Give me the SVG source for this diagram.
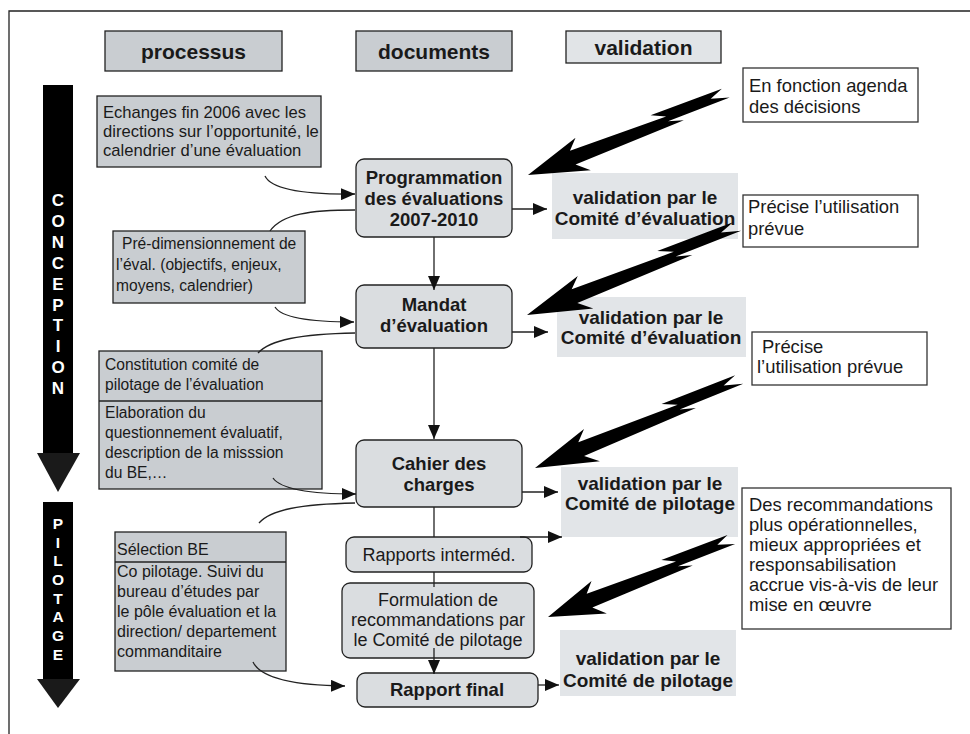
<svg xmlns="http://www.w3.org/2000/svg" width="970" height="734" viewBox="0 0 970 734">
<defs>
<style>
text{font-family:"Liberation Sans",Arial,Helvetica,sans-serif;fill:#1a1a1a}
.hdr{font-size:21px;font-weight:bold;text-anchor:middle}
.box{fill:#c9cdd1;stroke:#222;stroke-width:1.3}
.hlight{fill:#e1e4e7;stroke:#222;stroke-width:1.3}
.node{fill:#dadde0;stroke:#222;stroke-width:1.3}
.val{fill:#e2e5e8}
.note{fill:#fff;stroke:#333;stroke-width:1.3}
.t155{font-size:15.6px}
.t16{font-size:16px}
.t17{font-size:16.6px}
.t18{font-size:18.4px}
.nb{font-size:18.5px;font-weight:bold;text-anchor:middle}
.nn{font-size:18px;text-anchor:middle}
.vb{font-size:19px;font-weight:bold;text-anchor:middle}
.conn{fill:none;stroke:#222;stroke-width:1.3}
.bolt{fill:#000}
.phase{font-size:17px;font-weight:bold;fill:#fff;text-anchor:middle}
.phase2{font-size:15.5px;font-weight:bold;fill:#fff;text-anchor:middle}
.bar{fill:#000}
.head{fill:#1a1a1a}
</style>
<marker id="arr" markerUnits="userSpaceOnUse" markerWidth="14" markerHeight="12" refX="14" refY="6" orient="auto"><path d="M0,0L14,6L0,12Z" fill="#111"/></marker>
<path id="boltShape" d="M0,0 L58,-17 L48,-7 L150,-3 L136,-10 L212,-8 L198,-3 L216,3 L150,2 L165,7 L48,8 L60,19 Z"/>
</defs>

<g id="frame">
<path d="M9,734 V11 H970" fill="none" stroke="#222" stroke-width="1.3"/>
</g>

<g id="header-processus">
<rect x="105" y="31" width="177" height="40" class="box"/>
<text x="193.5" y="58.5" class="hdr">processus</text>
</g>
<g id="header-documents">
<rect x="356" y="31" width="156" height="40" class="box"/>
<text x="434" y="58.5" class="hdr">documents</text>
</g>
<g id="header-validation">
<rect x="566" y="31" width="155" height="32" class="hlight"/>
<text x="643.5" y="55" class="hdr">validation</text>
</g>

<g id="phase-conception">
<rect x="43" y="85" width="30" height="369" class="bar"/>
<polygon points="37,453 80,453 58,492" class="head"/>
<text x="58" y="206" class="phase">C</text>
<text x="58" y="227" class="phase">O</text>
<text x="58" y="248" class="phase">N</text>
<text x="58" y="269" class="phase">C</text>
<text x="58" y="290" class="phase">E</text>
<text x="58" y="311" class="phase">P</text>
<text x="58" y="331" class="phase">T</text>
<text x="58" y="352" class="phase">I</text>
<text x="58" y="373" class="phase">O</text>
<text x="58" y="394" class="phase">N</text>
</g>
<g id="phase-pilotage">
<rect x="43" y="502" width="30" height="178" class="bar"/>
<polygon points="37,679 80,679 58,708" class="head"/>
<text x="58" y="529" class="phase2">P</text>
<text x="58" y="548" class="phase2">I</text>
<text x="58" y="566" class="phase2">L</text>
<text x="58" y="585" class="phase2">O</text>
<text x="58" y="604" class="phase2">T</text>
<text x="58" y="622" class="phase2">A</text>
<text x="58" y="641" class="phase2">G</text>
<text x="58" y="660" class="phase2">E</text>
</g>

<g id="proc-echanges">
<rect x="97" y="96" width="224" height="71" class="box"/>
<text class="t17"><tspan x="103" y="118">Echanges fin 2006 avec les</tspan><tspan x="103" y="137">directions sur l’opportunité, le</tspan><tspan x="103" y="156">calendrier d’une évaluation</tspan></text>
</g>
<g id="proc-predim">
<rect x="113" y="231" width="192" height="72" class="box"/>
<text class="t155"><tspan x="122" y="249">Pré-dimensionnement de</tspan><tspan x="116" y="270">l’éval. (objectifs, enjeux,</tspan><tspan x="116" y="291">moyens, calendrier)</tspan></text>
</g>
<g id="proc-constitution">
<rect x="99" y="351" width="223" height="138" class="box"/>
<line x1="99" y1="401" x2="322" y2="401" stroke="#222" stroke-width="1.3"/>
<text class="t155"><tspan x="105" y="370">Constitution comité de</tspan><tspan x="105" y="390">pilotage de l’évaluation</tspan><tspan x="105" y="418">Elaboration du</tspan><tspan x="105" y="438">questionnement évaluatif,</tspan><tspan x="105" y="458">description de la misssion</tspan><tspan x="105" y="478">du BE,…</tspan></text>
</g>
<g id="proc-selection">
<rect x="115" y="532" width="171" height="139" class="box"/>
<line x1="115" y1="562" x2="286" y2="562" stroke="#222" stroke-width="1.3"/>
<text class="t16"><tspan x="117" y="555">Sélection BE</tspan><tspan x="117" y="577">Co pilotage. Suivi du</tspan><tspan x="117" y="597">bureau d’études par</tspan><tspan x="117" y="617">le pôle évaluation et la</tspan><tspan x="117" y="637">direction/ departement</tspan><tspan x="117" y="657">commanditaire</tspan></text>
</g>

<g id="doc-programmation">
<rect x="356" y="159" width="156" height="78" rx="8" class="node"/>
<text class="nb"><tspan x="434" y="184">Programmation</tspan><tspan x="434" y="205">des évaluations</tspan><tspan x="434" y="226">2007-2010</tspan></text>
</g>
<g id="doc-mandat">
<rect x="356" y="285" width="156" height="63" rx="8" class="node"/>
<text class="nb"><tspan x="434" y="311">Mandat</tspan><tspan x="434" y="332">d’évaluation</tspan></text>
</g>
<g id="doc-cahier">
<rect x="356" y="440" width="166" height="67" rx="8" class="node"/>
<text class="nb"><tspan x="439" y="470">Cahier des</tspan><tspan x="439" y="491">charges</tspan></text>
</g>
<g id="doc-rapports">
<rect x="346" y="537" width="186" height="35" rx="8" class="node"/>
<text x="439" y="561" class="nn">Rapports interméd.</text>
</g>
<g id="doc-formulation">
<rect x="342" y="583" width="192" height="75" rx="8" class="node"/>
<text class="nn"><tspan x="438" y="606">Formulation de</tspan><tspan x="438" y="626">recommandations par</tspan><tspan x="438" y="646">le Comité de pilotage</tspan></text>
</g>
<g id="doc-rapport-final">
<rect x="357" y="673" width="181" height="34" rx="8" class="node"/>
<text x="447" y="696" class="nb">Rapport final</text>
</g>

<g id="val-1">
<rect x="552" y="173" width="186" height="66" class="val"/>
<text class="vb"><tspan x="645" y="204">validation par le</tspan><tspan x="645" y="225">Comité d’évaluation</tspan></text>
</g>
<g id="val-2">
<rect x="557" y="297" width="189" height="60" class="val"/>
<text class="vb"><tspan x="651" y="324">validation par le</tspan><tspan x="651" y="344">Comité d’évaluation</tspan></text>
</g>
<g id="val-3">
<rect x="561" y="467" width="177" height="70" class="val"/>
<text class="vb"><tspan x="650" y="490">validation par le</tspan><tspan x="650" y="510">Comité de pilotage</tspan></text>
</g>
<g id="val-4">
<rect x="560" y="630" width="176" height="66" class="val"/>
<text class="vb"><tspan x="648" y="665">validation par le</tspan><tspan x="648" y="687">Comité de pilotage</tspan></text>
</g>

<g id="note-agenda">
<rect x="743" y="68" width="175" height="54" class="note"/>
<text class="t18"><tspan x="749" y="91.5">En fonction agenda</tspan><tspan x="749" y="112.5">des décisions</tspan></text>
</g>
<g id="note-utilisation-1">
<rect x="743" y="195" width="175" height="52" class="note"/>
<text class="t18"><tspan x="748" y="213">Précise l’utilisation</tspan><tspan x="748" y="235">prévue</tspan></text>
</g>
<g id="note-utilisation-2">
<rect x="752" y="332" width="175" height="53" class="note"/>
<text class="t18"><tspan x="762" y="353">Précise</tspan><tspan x="757" y="373">l’utilisation prévue</tspan></text>
</g>
<g id="note-recommandations">
<rect x="742" y="488" width="209" height="141" class="note"/>
<text class="t18"><tspan x="749" y="511">Des recommandations</tspan><tspan x="749" y="531">plus opérationnelles,</tspan><tspan x="749" y="551">mieux appropriées et</tspan><tspan x="749" y="571">responsabilisation</tspan><tspan x="749" y="591">accrue vis-à-vis de leur</tspan><tspan x="749" y="611">mise en œuvre</tspan></text>
</g>

<g id="connectors">
<line x1="434" y1="237" x2="434" y2="290" class="conn" marker-end="url(#arr)"/>
<line x1="434" y1="348" x2="434" y2="439" class="conn" marker-end="url(#arr)"/>
<line x1="434" y1="507" x2="434" y2="537" class="conn"/>
<line x1="434" y1="572" x2="434" y2="587" class="conn"/>
<line x1="434" y1="648" x2="434" y2="674" class="conn" marker-end="url(#arr)"/>

<line x1="512" y1="209" x2="547" y2="209" class="conn" marker-end="url(#arr)"/>
<line x1="512" y1="332" x2="548" y2="332" class="conn" marker-end="url(#arr)"/>
<line x1="522" y1="492" x2="558" y2="492" class="conn" marker-end="url(#arr)"/>
<line x1="520" y1="537" x2="562" y2="537" class="conn" marker-end="url(#arr)"/>
<line x1="538" y1="685" x2="559" y2="685" class="conn" marker-end="url(#arr)"/>

<path d="M265,176 Q274,195 355,194" class="conn" marker-end="url(#arr)"/>
<path d="M355,210 C310,210 282,214 270,231" class="conn"/>
<path d="M275,307 Q284,322 354,322" class="conn" marker-end="url(#arr)"/>
<path d="M355,333 C300,334 270,340 258,353" class="conn"/>
<path d="M273,478 Q284,494 356,494" class="conn" marker-end="url(#arr)"/>
<path d="M355,503 C300,504 270,510 259,523" class="conn"/>
<path d="M253,662 Q264,685 345,686" class="conn" marker-end="url(#arr)"/>

<use href="#boltShape" class="bolt" transform="translate(528,175) rotate(-21.8) scale(1,1)"/>
<use href="#boltShape" class="bolt" transform="translate(527,315) rotate(-22.2) scale(1.065,1)"/>
<use href="#boltShape" class="bolt" transform="translate(535,468) rotate(-22.8) scale(1.04,1)"/>
<use href="#boltShape" class="bolt" transform="translate(548,617) rotate(-22.2) scale(0.93,1)"/>
</g>
</svg>
